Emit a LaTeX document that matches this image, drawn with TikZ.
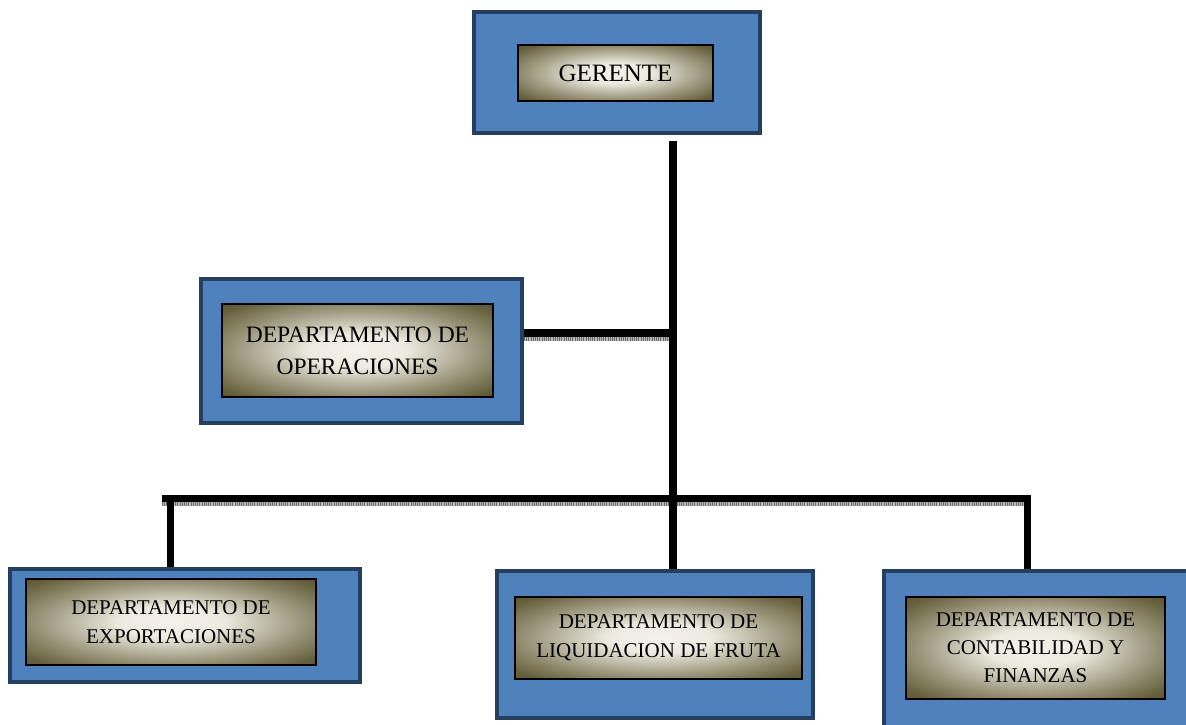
\documentclass[tikz,border=0pt]{standalone}
\usepackage{fontspec}
\setmainfont{Liberation Serif}
\definecolor{boxblue}{HTML}{4F81BD}
\definecolor{boxedge}{HTML}{243F60}
\pgfdeclareradialshading{deptshade}{\pgfpoint{0bp}{0bp}}{%
  rgb(0bp)=(0.95,0.945,0.92);
  rgb(9bp)=(0.93,0.92,0.88);
  rgb(22bp)=(0.62,0.60,0.50);
  rgb(32bp)=(0.40,0.38,0.24);
  rgb(36bp)=(0.35,0.33,0.21);
  rgb(50bp)=(0.35,0.33,0.21)}
\tikzset{
  outerbox/.style={draw=boxedge, line width=4pt, fill=boxblue, inner sep=0pt},
  innerbox/.style={draw=black, line width=1.4pt, inner sep=0pt, align=center,
    shading=deptshade, text=black},
  conn/.style={line width=7.5pt, black},
  shadowln/.style={line width=4pt, gray!55},
  shadowdots/.style={line width=4pt, gray!85!black, dash pattern=on 1pt off 1.2pt},
  deptfont/.style={font=\fontsize{21}{29}\selectfont},
}
\begin{document}
\begin{tikzpicture}[x=1pt,y=-1pt]
\clip (0,0) rectangle (1186,724);
\fill[white] (0,0) rectangle (1186,724);
% outer boxes
\node[outerbox, minimum width=286, minimum height=121] (gerO) at (617,72.5) {};
\node[outerbox, minimum width=321, minimum height=144] (opO) at (361.5,351) {};
\node[outerbox, minimum width=350, minimum height=113] (expO) at (185,625.5) {};
\node[outerbox, minimum width=316, minimum height=147] (liqO) at (655,644.5) {};
\node[outerbox, minimum width=308, minimum height=159] (conO) at (1038,650.5) {};
% inner boxes
\node[innerbox, minimum width=195, minimum height=56, font=\fontsize{25}{30}\selectfont] (ger) at (615.5,73) {GERENTE};
\node[innerbox, minimum width=271, minimum height=93, font=\fontsize{23.5}{32}\selectfont] (op) at (357.5,350.5) {DEPARTAMENTO DE\\OPERACIONES};
\node[innerbox, deptfont, minimum width=290, minimum height=86] (exp) at (171,622) {DEPARTAMENTO DE\\EXPORTACIONES};
\node[innerbox, deptfont, minimum width=287, minimum height=82] (liq) at (658.5,638) {DEPARTAMENTO DE\\LIQUIDACION DE FRUTA};
\node[innerbox, minimum width=259, minimum height=102, font=\fontsize{21}{28}\selectfont] (con) at (1035.5,648) {DEPARTAMENTO DE\\CONTABILIDAD Y\\FINANZAS};
% connector coordinates
\coordinate (top) at (673,141);
\coordinate (opj) at (673,333);
\coordinate (busL) at (162,498.5);
\coordinate (busR) at (1031,498.5);
\coordinate (dropL) at (170.5,498.5);
\coordinate (dropR) at (1027.5,498.5);
% shadows
\draw[shadowln] (opO.east |- 0,339) -- (669,339);
\draw[shadowdots] (opO.east |- 0,339) -- (669,339);
\draw[shadowln] (162,504) -- (1024,504);
\draw[shadowdots] (162,504) -- (1024,504);
% connectors
\draw[conn] (top) -- (top |- liqO.north);
\draw[conn] (opO.east |- opj) -- (opj);
\draw[conn] (busL) -- (busR);
\draw[conn] (dropL) -- (dropL |- expO.north);
\draw[conn] (dropR) -- (dropR |- conO.north);
\end{tikzpicture}
\end{document}
